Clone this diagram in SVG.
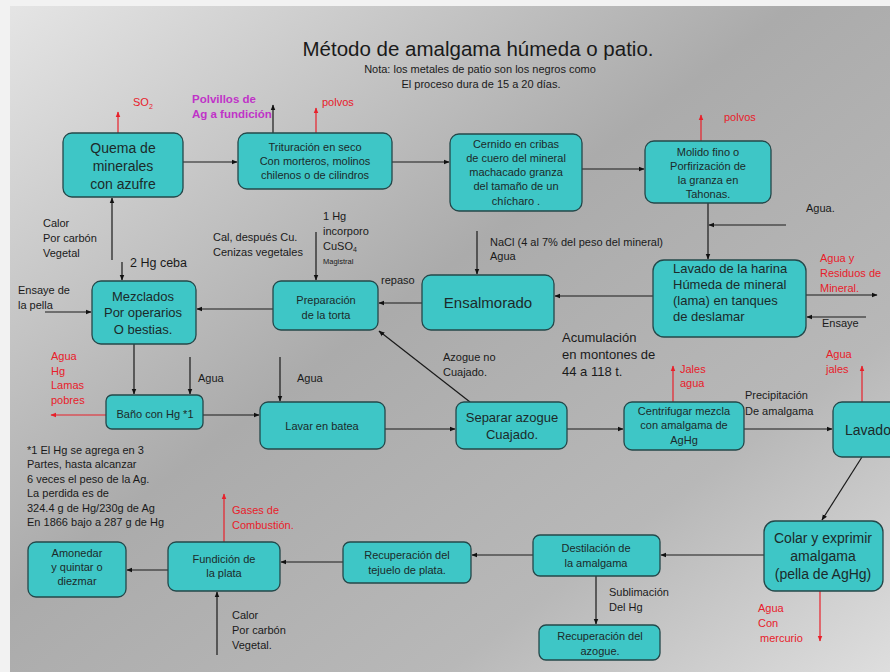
<svg xmlns="http://www.w3.org/2000/svg" width="890" height="672" viewBox="0 0 890 672">
<defs>
<linearGradient id="bg" x1="0" y1="0" x2="1" y2="1">
<stop offset="0" stop-color="#e6e6e6"/>
<stop offset="0.45" stop-color="#ababab"/>
<stop offset="0.75" stop-color="#b8b8b8"/>
<stop offset="1" stop-color="#dedede"/>
</linearGradient>
<marker id="ah" viewBox="0 0 10 10" refX="9" refY="5" markerWidth="5" markerHeight="5" orient="auto">
<path d="M0,1 L10,5 L0,9 z" fill="#111"/>
</marker>
<marker id="ahr" viewBox="0 0 10 10" refX="9" refY="5" markerWidth="5" markerHeight="5" orient="auto">
<path d="M0,1 L10,5 L0,9 z" fill="#e8202a"/>
</marker>
</defs>
<style>
text{font-family:"Liberation Sans",Arial,sans-serif;fill:#1a1a1a}
.n rect{fill:#3ec6c6;stroke:#24484a;stroke-width:1.3}
.n text{text-anchor:middle;fill:#1c2a2a}
.n text.st{text-anchor:start}
.s11{font-size:11px}
.s13{font-size:13px}
.s14{font-size:14px}
.red{fill:#e8202a}
.mag{fill:#c033c8;font-weight:bold;font-size:11.5px}
.c line,.c path{stroke:#1a1a1a;stroke-width:1.2;fill:none;marker-end:url(#ah)}
.c .r{stroke:#e8202a;marker-end:url(#ahr)}
</style>
<rect width="890" height="672" fill="url(#bg)"/>
<rect x="0" y="0" width="10" height="672" fill="#f2f2f2"/>
<rect x="0" y="0" width="890" height="6" fill="#f2f2f2"/>

<text x="478" y="56" font-size="20.5" text-anchor="middle" fill="#111">Método de amalgama húmeda o patio.</text>
<text x="480" y="73" font-size="11" text-anchor="middle">Nota: los metales de patio son los negros como</text>
<text x="481" y="88" font-size="11" text-anchor="middle">El proceso dura de  15 a 20 días.</text>

<g class="c">
<line class="r" x1="118" y1="133" x2="118" y2="112"/>
<line x1="273" y1="133" x2="273" y2="105"/>
<line class="r" x1="316" y1="133" x2="316" y2="108"/>
<line class="r" x1="701" y1="141" x2="701" y2="115"/>
<line x1="183" y1="162" x2="237" y2="162"/>
<line x1="392" y1="162" x2="449" y2="162"/>
<line x1="582" y1="169" x2="644" y2="169"/>
<line x1="708" y1="203" x2="708" y2="259"/>
<line x1="786" y1="225" x2="709" y2="225"/>
<line x1="806" y1="295" x2="877" y2="295"/>
<line x1="866" y1="317" x2="807" y2="317"/>
<line x1="653" y1="296" x2="555" y2="296"/>
<line x1="477" y1="231" x2="477" y2="274"/>
<line x1="422" y1="303" x2="379" y2="303"/>
<line x1="316" y1="232" x2="316" y2="280"/>
<line x1="273" y1="309" x2="197" y2="309"/>
<line x1="122" y1="262" x2="122" y2="280"/>
<line x1="112" y1="260" x2="112" y2="198"/>
<line x1="45" y1="312" x2="91" y2="312"/>
<line x1="134" y1="344" x2="134" y2="394"/>
<line x1="190" y1="357" x2="190" y2="394"/>
<line class="r" x1="106" y1="415" x2="51" y2="415"/>
<line x1="203" y1="415" x2="259" y2="415"/>
<line x1="280" y1="357" x2="280" y2="401"/>
<line x1="385" y1="429" x2="455" y2="429"/>
<line x1="470" y1="402" x2="379" y2="331"/>
<line x1="567" y1="429" x2="623" y2="429"/>
<line class="r" x1="673" y1="402" x2="673" y2="366"/>
<line x1="744" y1="429" x2="832" y2="429"/>
<line class="r" x1="862" y1="402" x2="862" y2="366"/>
<line x1="862" y1="457" x2="822" y2="520"/>
<line x1="764" y1="555" x2="661" y2="555"/>
<line class="r" x1="820" y1="591" x2="820" y2="641"/>
<line x1="596" y1="576" x2="596" y2="624"/>
<line x1="533" y1="555" x2="472" y2="555"/>
<line x1="343" y1="562" x2="281" y2="562"/>
<line x1="168" y1="570" x2="127" y2="570"/>
<line class="r" x1="224" y1="542" x2="224" y2="494"/>
<line x1="217" y1="655" x2="217" y2="592"/>
</g>

<g id="quema" class="n"><rect x="63" y="133" width="120" height="64" rx="9"/>
<text class="s14" x="123" y="153">Quema de</text><text class="s14" x="123" y="171">minerales</text><text class="s14" x="123" y="189">con azufre</text></g>
<g id="trituracion" class="n"><rect x="238" y="133" width="154" height="56" rx="9"/>
<text class="s11" x="315" y="151">Trituración en seco</text><text class="s11" x="315" y="165">Con morteros, molinos</text><text class="s11" x="315" y="179">chilenos o de cilindros</text></g>
<g id="cernido" class="n"><rect x="450" y="134" width="132" height="77" rx="9"/>
<text class="s11" x="516" y="148">Cernido en cribas</text><text class="s11" x="516" y="162">de cuero del mineral</text><text class="s11" x="516" y="176">machacado  granza</text><text class="s11" x="516" y="190">del tamaño de un</text><text class="s11" x="516" y="205">chícharo .</text></g>
<g id="molido" class="n"><rect x="645" y="141" width="126" height="62" rx="9"/>
<text class="s11" x="708" y="156">Molido fino o</text><text class="s11" x="708" y="170">Porfirización de</text><text class="s11" x="708" y="184">la granza en</text><text class="s11" x="708" y="198">Tahonas.</text></g>
<g id="lavado-harina" class="n"><rect x="653" y="260" width="153" height="77" rx="11"/>
<text class="s13 st" x="673" y="273">Lavado de la harina</text><text class="s13 st" x="673" y="289">Húmeda de mineral</text><text class="s13 st" x="673" y="305">(lama) en tanques</text><text class="s13 st" x="673" y="321">de deslamar</text></g>
<g id="ensalmorado" class="n"><rect x="422" y="275" width="132" height="55" rx="9"/>
<text x="488" y="308" font-size="15">Ensalmorado</text></g>
<g id="preparacion" class="n"><rect x="273" y="281" width="105" height="49" rx="8"/>
<text class="s11" x="326" y="304">Preparación</text><text class="s11" x="326" y="319">de la torta</text></g>
<g id="mezclados" class="n"><rect x="92" y="281" width="104" height="63" rx="9"/>
<text class="s13" x="143" y="301">Mezclados</text><text class="s13" x="143" y="317">Por operarios</text><text class="s13" x="143" y="334">O bestias.</text></g>
<g id="bano" class="n"><rect x="106" y="395" width="97" height="34" rx="6"/>
<text class="s11" x="155" y="418">Baño con Hg *1</text></g>
<g id="batea" class="n"><rect x="260" y="402" width="125" height="47" rx="8"/>
<text class="s11" x="322" y="430">Lavar en batea</text></g>
<g id="separar" class="n"><rect x="456" y="402" width="111" height="47" rx="8"/>
<text class="s13" x="512" y="422">Separar azogue</text><text class="s13" x="512" y="439">Cuajado.</text></g>
<g id="centrifugar" class="n"><rect x="624" y="402" width="120" height="48" rx="8"/>
<text class="s11" x="684" y="415">Centrifugar mezcla</text><text class="s11" x="684" y="429">con amalgama  de</text><text class="s11" x="684" y="444">AgHg</text></g>
<g id="lavado" class="n"><rect x="833" y="402" width="80" height="55" rx="9"/>
<text class="s14 st" x="845" y="435">Lavado</text></g>
<g id="colar" class="n"><rect x="764" y="521" width="119" height="70" rx="11"/>
<text class="s14" x="823" y="543">Colar y exprimir</text><text class="s14" x="823" y="561">amalgama</text><text class="s14" x="823" y="579">(pella de AgHg)</text></g>
<g id="destilacion" class="n"><rect x="533" y="535" width="127" height="41" rx="7"/>
<text class="s11" x="596" y="552">Destilación de</text><text class="s11" x="596" y="567">la amalgama</text></g>
<g id="rec-azogue" class="n"><rect x="539" y="625" width="121" height="35" rx="7"/>
<text class="s11" x="600" y="640">Recuperación del</text><text class="s11" x="600" y="655">azogue.</text></g>
<g id="tejuelo" class="n"><rect x="343" y="542" width="128" height="41" rx="7"/>
<text class="s11" x="407" y="559">Recuperación del</text><text class="s11" x="407" y="574">tejuelo de plata.</text></g>
<g id="fundicion" class="n"><rect x="168" y="542" width="112" height="49" rx="8"/>
<text class="s11" x="224" y="563">Fundición de</text><text class="s11" x="224" y="577">la plata</text></g>
<g id="amonedar" class="n"><rect x="28" y="542" width="98" height="55" rx="8"/>
<text class="s11" x="77" y="557">Amonedar</text><text class="s11" x="77" y="571">y quintar o</text><text class="s11" x="77" y="585">diezmar</text></g>

<g id="labels" font-size="11">
<text class="red" x="133" y="106" font-size="11">SO<tspan font-size="7" dy="3">2</tspan></text>
<text class="mag" x="192" y="103">Polvillos de</text>
<text class="mag" x="192" y="118">Ag  a fundición</text>
<text class="red" x="322" y="106">polvos</text>
<text class="red" x="724" y="121">polvos</text>
<text x="806" y="212">Agua.</text>
<text class="red" x="820" y="262">Agua y</text>
<text class="red" x="820" y="277">Residuos de</text>
<text class="red" x="820" y="292">Mineral.</text>
<text x="822" y="327">Ensaye</text>
<text x="490" y="246">NaCl (4 al 7% del peso del mineral)</text>
<text x="490" y="260">Agua</text>
<text x="381" y="284">repaso</text>
<text x="323" y="220">1 Hg</text>
<text x="323" y="235">incorporo</text>
<text x="323" y="250">CuSO<tspan font-size="7" dy="2">4</tspan></text>
<text x="323" y="264" font-size="7.5">Magistral</text>
<text x="213" y="241">Cal, después Cu.</text>
<text x="213" y="256">Cenizas vegetales</text>
<text x="130" y="267" font-size="12.5">2 Hg ceba</text>
<text x="43" y="227">Calor</text>
<text x="43" y="242">Por carbón</text>
<text x="43" y="257">Vegetal</text>
<text x="18" y="294">Ensaye de</text>
<text x="18" y="309">la pella</text>
<text x="198" y="382">Agua</text>
<text class="red" x="51" y="360">Agua</text>
<text class="red" x="51" y="375">Hg</text>
<text class="red" x="51" y="389">Lamas</text>
<text class="red" x="51" y="404">pobres</text>
<text x="297" y="382">Agua</text>
<text x="443" y="361">Azogue no</text>
<text x="443" y="376">Cuajado.</text>
<text x="562" y="342" font-size="13">Acumulación</text>
<text x="562" y="359" font-size="13">en montones de</text>
<text x="562" y="376" font-size="13">44 a 118 t.</text>
<text class="red" x="680" y="373">Jales</text>
<text class="red" x="680" y="387">agua</text>
<text x="745" y="399">Precipitación</text>
<text x="745" y="415">De amalgama</text>
<text class="red" x="826" y="358">Agua</text>
<text class="red" x="826" y="373">jales</text>
<text class="red" x="758" y="612">Agua</text>
<text class="red" x="758" y="627">Con</text>
<text class="red" x="760" y="642">mercurio</text>
<text x="609" y="596">Sublimación</text>
<text x="609" y="611">Del Hg</text>
<text class="red" x="232" y="514">Gases de</text>
<text class="red" x="232" y="529">Combustión.</text>
<text x="232" y="619">Calor</text>
<text x="232" y="634">Por carbón</text>
<text x="232" y="649">Vegetal.</text>
<text x="27" y="454">*1 El Hg se agrega en 3</text>
<text x="27" y="468">Partes, hasta alcanzar</text>
<text x="27" y="483">6 veces el peso de la Ag.</text>
<text x="27" y="497">La perdida es de</text>
<text x="27" y="512">324.4 g de Hg/230g de Ag</text>
<text x="27" y="526">En 1866 bajo a 287 g de Hg</text>
</g>
</svg>
